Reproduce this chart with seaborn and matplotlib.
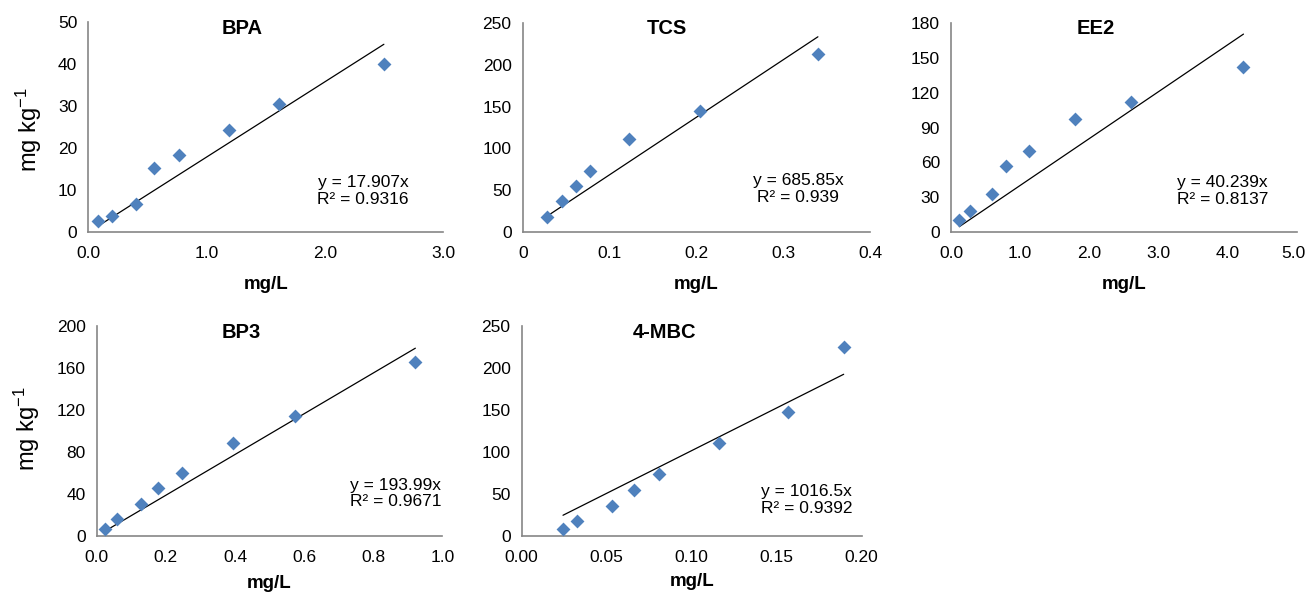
import matplotlib
matplotlib.use("Agg")
import matplotlib.pyplot as plt
import matplotlib.transforms as mtransforms
import pandas as pd
import seaborn as sns

sns.set_style("white")
plt.rcParams["font.family"] = ["Liberation Sans", "DejaVu Sans"]
plt.rcParams["mathtext.fontset"] = "custom"
plt.rcParams["mathtext.rm"] = "Liberation Sans"
plt.rcParams["mathtext.it"] = "Liberation Sans:italic"
plt.rcParams["mathtext.bf"] = "Liberation Sans:bold"
plt.rcParams["text.color"] = "black"
plt.rcParams["axes.labelcolor"] = "black"

# Sorbed concentration (mg kg-1) against aqueous concentration (mg/L)
compounds = ["BPA", "TCS", "EE2", "BP3", "4-MBC"]

bpa_x = [0.08, 0.20, 0.40, 0.555, 0.766, 1.19, 1.61, 2.50]
bpa_y = [2.7, 3.9, 6.8, 15.3, 18.4, 24.4, 30.5, 40.1]

tcs_x = [0.0277, 0.0454, 0.0615, 0.0777, 0.122, 0.204, 0.340]
tcs_y = [17.9, 37.0, 55.2, 73.5, 110.9, 144.7, 213.0]

ee2_x = [0.12, 0.27, 0.60, 0.80, 1.13, 1.79, 2.60, 4.23]
ee2_y = [10.6, 18.3, 32.6, 57.0, 69.8, 97.6, 112.2, 142.0]

bp3_x = [0.025, 0.058, 0.127, 0.178, 0.248, 0.393, 0.575, 0.922]
bp3_y = [7.0, 16.2, 30.5, 46.0, 60.3, 88.3, 114.3, 166.0]

mbc_x = [0.0243, 0.0325, 0.0529, 0.0659, 0.0808, 0.1163, 0.1565, 0.1894]
mbc_y = [8.3, 17.9, 35.7, 55.2, 73.8, 110.7, 147.2, 224.6]

# Linear fits through the origin
slopes = [17.907, 685.85, 40.239, 193.99, 1016.5]
r2_labels = ["0.9316", "0.939", "0.8137", "0.9671", "0.9392"]

# Axis ticks
x_ticks = [
    [0.0, 1.0, 2.0, 3.0],
    [0.0, 0.1, 0.2, 0.3, 0.4],
    [0.0, 1.0, 2.0, 3.0, 4.0, 5.0],
    [0.0, 0.2, 0.4, 0.6, 0.8, 1.0],
    [0.00, 0.05, 0.10, 0.15, 0.20],
]
x_tick_labels = [
    ["0.0", "1.0", "2.0", "3.0"],
    ["0", "0.1", "0.2", "0.3", "0.4"],
    ["0.0", "1.0", "2.0", "3.0", "4.0", "5.0"],
    ["0.0", "0.2", "0.4", "0.6", "0.8", "1.0"],
    ["0.00", "0.05", "0.10", "0.15", "0.20"],
]
y_ticks = [
    [0, 10, 20, 30, 40, 50],
    [0, 50, 100, 150, 200, 250],
    [0, 30, 60, 90, 120, 150, 180],
    [0, 40, 80, 120, 160, 200],
    [0, 50, 100, 150, 200, 250],
]

series = [(bpa_x, bpa_y), (tcs_x, tcs_y), (ee2_x, ee2_y),
          (bp3_x, bp3_y), (mbc_x, mbc_y)]

W, H = 1307, 592
fig = plt.figure(figsize=(W / 100, H / 100), dpi=100)

# panel boxes in pixels: left, right, top, bottom
boxes = [
    (88.3, 443.0, 22.3, 232.3),
    (522.7, 870.0, 22.7, 232.3),
    (951.0, 1296.7, 22.7, 232.3),
    (96.7, 442.3, 326.0, 536.0),
    (521.7, 861.7, 326.0, 536.0),
]
title_pos = [(0.433, 0.970), (0.415, 0.972), (0.419, 0.970), (0.417, 0.970), (0.421, 0.970)]
eq_pos = [(0.775, 0.196), (0.793, 0.208), (0.786, 0.196), (0.864, 0.202), (0.838, 0.171)]
xlabel_y = [-0.249, -0.249, -0.249, -0.224, -0.218]
ylabel_pos = {0: (-0.168, 0.49), 3: (-0.203, 0.51)}

axis_gray = "#868686"
blue = "#4F81BD"

for i, name in enumerate(compounds):
    l, r, t, b = boxes[i]
    ax = fig.add_axes([l / W, (H - b) / H, (r - l) / W, (b - t) / H])
    xs, ys = series[i]
    df = pd.DataFrame({"conc": xs, "sorbed": ys})

    sns.scatterplot(data=df, x="conc", y="sorbed", ax=ax, marker="D",
                    s=50, color=blue, linewidth=0, zorder=3)

    fit = pd.DataFrame({"conc": [min(xs), max(xs)]})
    fit["sorbed"] = slopes[i] * fit["conc"]
    sns.lineplot(data=fit, x="conc", y="sorbed", ax=ax, color="black",
                 linewidth=0.9, zorder=2)

    ax.set_xlim(x_ticks[i][0], x_ticks[i][-1])
    ax.set_ylim(y_ticks[i][0], y_ticks[i][-1])
    ax.set_xticks(x_ticks[i])
    ax.set_xticklabels(x_tick_labels[i])
    ax.set_yticks(y_ticks[i])
    ax.set_yticklabels([str(v) for v in y_ticks[i]])

    for side in ["top", "right"]:
        ax.spines[side].set_visible(False)
    for side in ["left", "bottom"]:
        ax.spines[side].set_color(axis_gray)
        ax.spines[side].set_linewidth(1.2)
    ax.tick_params(axis="both", direction="in", length=3.5, width=1.0,
                   color=axis_gray, labelcolor="black", labelsize=12.5)
    ax.tick_params(axis="y", pad=8)
    ax.tick_params(axis="x", pad=10)

    # keep the last label of the right-most panel inside the figure
    if i == 2:
        last = ax.get_xticklabels()[-1]
        shift = mtransforms.ScaledTranslation(-3 / 100, 0, fig.dpi_scale_trans)
        last.set_transform(last.get_transform() + shift)

    ax.text(*title_pos[i], name, transform=ax.transAxes, ha="center",
            va="center", fontsize=14.5, fontweight="bold")

    eq = f"y = {slopes[i]:g}x\nR\u00b2 = {r2_labels[i]}"
    ax.text(*eq_pos[i], eq, transform=ax.transAxes, ha="center",
            va="center", multialignment="center", fontsize=12.5,
            linespacing=1.15)

    ax.set_xlabel("mg/L", fontsize=13.5, fontweight="bold")
    ax.xaxis.set_label_coords(0.5, xlabel_y[i])
    ax.xaxis.label.set_va("center")

    if i in ylabel_pos:
        ax.set_ylabel(r"mg kg$^{\mathregular{-1}}$", fontsize=17)
        ax.yaxis.set_label_coords(*ylabel_pos[i])
        ax.yaxis.label.set_va("center")
    else:
        ax.set_ylabel("")

fig.savefig("out.png", dpi=100)
